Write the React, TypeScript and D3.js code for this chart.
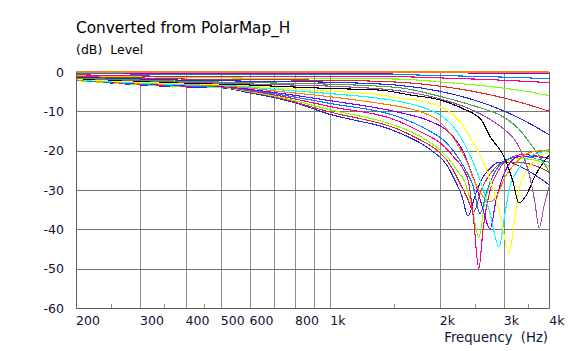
import * as d3 from "d3";
import { useEffect, useRef } from "react";

// angle curves, [Hz, dB]
const deg0 = [[200, 0], [4000, 0]];
const deg5 = [[200, -0.2], [400, -0.3], [1000, -0.3], [2000, -0.2], [3000, -0.3], [4000, -0.4]];
const deg10 = [[200, -0.4], [400, -0.6], [700, -0.7], [1000, -0.7], [1550, -0.7], [2000, -0.9], [2500, -1.1], [3000, -1.3], [3500, -1.5], [4000, -1.7]];
const deg15 = [[200, -0.7], [400, -1.1], [700, -1.1], [1000, -1.1], [1550, -1.2], [2000, -1.5], [2500, -1.8], [3000, -2.1], [3500, -2.4], [4000, -2.7]];
const deg20 = [[200, -0.9], [400, -1.4], [700, -1.6], [1000, -1.6], [1550, -1.8], [2000, -2.5], [2500, -3.3], [3000, -4.1], [3500, -5.0], [4000, -6.0]];
const deg25 = [[200, -1.1], [400, -1.8], [700, -2.0], [1000, -2.1], [1550, -2.6], [2000, -3.6], [2500, -5.0], [3000, -6.6], [3500, -8.3], [4000, -10.0]];
const deg30 = [[200, -1.3], [400, -2.1], [700, -2.4], [1000, -2.6], [1550, -3.4], [2000, -4.9], [2500, -7.2], [3000, -9.9], [3500, -12.9], [4000, -16.0]];
const deg35 = [[200, -1.5], [400, -2.4], [700, -2.8], [1000, -3.1], [1550, -4.0], [2000, -6.2], [2500, -8.7], [3000, -11.5], [3300, -14.5], [3600, -19], [3800, -22], [4000, -25.5]];
const deg40 = [[200, -1.6], [400, -2.6], [700, -3.2], [1000, -3.6], [1550, -4.8], [2000, -6.8], [2500, -10], [2800, -12.5], [3000, -14.5], [3300, -19], [3500, -25], [3650, -33], [3750, -39.7], [3870, -34], [4000, -29]];
const deg45 = [[200, -1.7], [400, -2.8], [600, -3.3], [700, -3.6], [1000, -4.2], [1370, -4.6], [1650, -5.8], [2000, -7.1], [2300, -9.2], [2600, -12.2], [2750, -16.4], [3000, -21.5], [3170, -27.5], [3300, -33.3], [3450, -31.5], [3650, -26.5], [4000, -21]];
const deg50 = [[200, -1.8], [400, -3.0], [500, -3.1], [700, -4.0], [1000, -4.9], [1370, -5.8], [1550, -6.7], [1770, -7.3], [2000, -8.8], [2180, -10.9], [2330, -13.9], [2470, -18], [2640, -23], [2750, -27.5], [2930, -36], [3100, -46], [3210, -38], [3300, -30], [3530, -24], [4000, -20.3]];
const deg55 = [[200, -1.9], [400, -3.2], [500, -3.3], [700, -4.4], [1000, -5.5], [1370, -6.7], [1550, -7.5], [1770, -8.8], [2000, -10.9], [2180, -13.9], [2330, -18], [2470, -23], [2580, -27.5], [2750, -36], [2910, -44.5], [3010, -37], [3100, -30], [3270, -25], [3530, -21.5], [4000, -20]];
const deg60 = [[200, -2.0], [400, -3.3], [500, -3.5], [600, -4.1], [700, -4.8], [1000, -6.3], [1370, -8], [1550, -8.8], [1770, -10.1], [2000, -12.6], [2130, -15.5], [2270, -19.4], [2380, -23], [2470, -27], [2580, -30.5], [2750, -33], [2870, -31.5], [3010, -27], [3170, -24], [3530, -20.5], [4000, -19.8]];
const deg65 = [[200, -2.0], [400, -3.4], [500, -3.6], [600, -4.4], [700, -5.2], [1000, -7.3], [1550, -10.3], [1880, -12.5], [2130, -15.5], [2330, -20.6], [2430, -25], [2520, -29], [2630, -35], [2750, -40], [2850, -33], [3000, -26], [3300, -21.5], [3600, -21.5], [4000, -22]];
const deg70 = [[200, -2.1], [400, -3.5], [500, -3.7], [600, -4.6], [700, -5.5], [1000, -8.0], [1550, -11.5], [1850, -14.7], [2090, -18.1], [2270, -22.4], [2380, -25.7], [2470, -29], [2580, -36], [2700, -30], [2850, -25], [3100, -22], [3400, -21.5], [4000, -23]];
const deg75 = [[200, -2.1], [400, -3.6], [500, -3.8], [600, -4.8], [700, -5.8], [1000, -8.8], [1550, -12.6], [1770, -15.2], [2040, -18.6], [2180, -21.5], [2330, -25], [2400, -28], [2480, -38], [2560, -50], [2630, -40], [2750, -30], [2900, -25], [3100, -22], [3400, -21], [4000, -22]];
const deg80 = [[200, -2.2], [400, -3.7], [500, -3.9], [600, -5.0], [700, -6.1], [1000, -9.6], [1550, -14], [1770, -16.4], [2000, -19.8], [2130, -22.4], [2230, -25], [2330, -27.5], [2450, -34], [2560, -42], [2650, -34], [2780, -27], [3000, -23], [3300, -22], [3700, -22.5], [4000, -24]];
const deg85 = [[200, -2.2], [400, -3.7], [500, -3.9], [600, -5.1], [700, -6.3], [1000, -10.2], [1550, -14.7], [1770, -17.3], [1960, -19.8], [2090, -22.4], [2180, -25], [2250, -27.5], [2380, -32], [2480, -35.5], [2600, -30], [2800, -25], [3000, -23], [3300, -23], [3700, -24], [4000, -25.5]];
const deg90 = [[200, -2.2], [250, -2.8], [300, -3.3], [400, -3.8], [500, -4.0], [600, -5.3], [700, -6.5], [800, -7.8], [1000, -10.8], [1200, -12.5], [1370, -13.7], [1550, -15.5], [1770, -18.1], [1920, -20.3], [2040, -22.4], [2130, -24.9], [2200, -27.5], [2300, -31.5], [2390, -36.6], [2500, -31.5], [2600, -27.5], [2750, -24.5], [2900, -23], [3100, -23], [3400, -24.5], [3700, -26.5], [4000, -28.7]];

const curves = [deg0, deg5, deg10, deg15, deg20, deg25, deg30, deg35, deg40, deg45, deg50, deg55, deg60, deg65, deg70, deg75, deg80, deg85, deg90];
const colors = ["#ff8000", "#8000ff", "#0080ff", "#ff0080", "#80ff00", "#e02828", "#2828e0", "#48a048", "#a050a8", "#000000", "#ffff00", "#00ffff",
  "#ff8000", "#8000ff", "#0080ff", "#ff0080", "#80ff00", "#e02828", "#2828e0"];

const xTicks = [200, 300, 400, 500, 600, 800, 1000, 2000, 3000, 4000];
const xTickLabels = ["200", "300", "400", "500", "600", "800", "1k", "2k", "3k", "4k"];
const xGrid = [300, 400, 500, 600, 700, 800, 900, 1000, 2000, 3000];
const xMinor = [250, 350, 450, 1500, 2500, 3500];
const yTicks = [0, -10, -20, -30, -40, -50, -60];

export default function App() {
  const ref = useRef(null);

  useEffect(() => {
    const svg = d3.select(ref.current);
    svg.selectAll("*").remove();
    const left = 76, right = 549.3, top = 72, bottom = 308;
    const font = "'DejaVu Sans', Verdana, sans-serif";

    const x = d3.scaleLog().domain([200, 4000]).range([left, right]);
    const y = d3.scaleLinear().domain([-60, 0]).range([bottom, top]);

    svg.append("text").attr("x", 76).attr("y", 33).attr("font-family", font).attr("font-size", 15.3).attr("fill", "#000")
      .text("Converted from PolarMap_H");
    svg.append("text").attr("x", 76).attr("y", 54).attr("font-family", font).attr("font-size", 12.5).attr("fill", "#000")
      .attr("xml:space", "preserve").text("(dB)  Level");

    // grid
    svg.append("g").selectAll("line").data(xGrid).join("line")
      .attr("x1", d => Math.round(x(d)) + 0.5).attr("x2", d => Math.round(x(d)) + 0.5)
      .attr("y1", top).attr("y2", bottom).attr("stroke", "#8c8c8c");
    svg.append("g").selectAll("line").data(yTicks.slice(1, -1)).join("line")
      .attr("x1", left).attr("x2", right).attr("y1", d => Math.round(y(d)) + 0.5).attr("y2", d => Math.round(y(d)) + 0.5)
      .attr("stroke", "#767676");
    svg.append("g").selectAll("line").data(xMinor).join("line")
      .attr("x1", d => Math.round(x(d)) + 0.5).attr("x2", d => Math.round(x(d)) + 0.5)
      .attr("y1", bottom - 4).attr("y2", bottom).attr("stroke", "#8c8c8c");

    // curves, wide angles first so the near-axis ones sit on top
    const line = d3.line().x(d => x(d[0])).y(d => y(d[1])).curve(d3.curveMonotoneX);
    const order = curves.map((c, i) => i).reverse();
    svg.append("g").selectAll("path").data(order).join("path")
      .attr("d", i => line(curves[i]))
      .attr("fill", "none").attr("stroke", i => colors[i]).attr("stroke-width", 1.1)
      .attr("shape-rendering", "crispEdges");

    // frame
    svg.append("path")
      .attr("d", `M${left + 0.5},${top}V${bottom + 0.5}H${Math.round(right) + 0.5}V${top}`)
      .attr("fill", "none").attr("stroke", "#606060");

    svg.append("g").selectAll("text").data(yTicks).join("text")
      .attr("x", 64).attr("y", d => y(d) + 4.5).attr("text-anchor", "end")
      .attr("font-family", font).attr("font-size", 12.5).attr("fill", "#10103a")
      .text(d => String(d));
    svg.append("g").selectAll("text").data(xTicks).join("text")
      .attr("x", d => x(d)).attr("y", 325)
      .attr("font-family", font).attr("font-size", 12.5).attr("fill", "#10103a")
      .text((d, i) => xTickLabels[i]);
    svg.append("text").attr("x", 548).attr("y", 342).attr("text-anchor", "end")
      .attr("font-family", font).attr("font-size", 13.2).attr("fill", "#10103a")
      .attr("xml:space", "preserve").text("Frequency  (Hz)");
  }, []);

  return <svg ref={ref} width={578} height={351} style={{ position: "absolute", left: 0, top: 0, background: "#fff" }}></svg>;
}
